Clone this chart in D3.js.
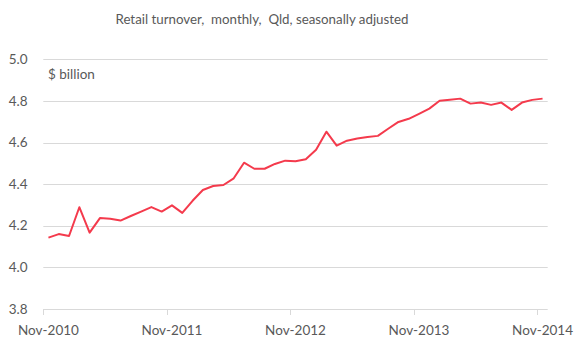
<!DOCTYPE html>
<html><head><meta charset="utf-8">
<script src="https://cdn.jsdelivr.net/npm/d3@7"></script>
<style>
html,body{margin:0;padding:0;background:#fff;}
svg text{font-family:Lato,"Open Sans",sans-serif;fill:#595959;}
</style></head>
<body><svg id="c" width="578" height="358"></svg>
<script>
const title = "Retail turnover,  monthly,  Qld, seasonally adjusted";
const unitLabel = "$ billion";
const startMonth = new Date(2010, 10, 1); // Nov-2010
const values = [4.143,4.160,4.151,4.289,4.167,4.237,4.234,4.225,4.247,4.268,
  4.290,4.268,4.298,4.262,4.320,4.372,4.391,4.396,4.428,4.503,
  4.474,4.474,4.497,4.513,4.510,4.520,4.565,4.652,4.585,4.609,
  4.619,4.627,4.632,4.666,4.699,4.714,4.738,4.763,4.801,4.806,
  4.811,4.787,4.792,4.781,4.792,4.757,4.792,4.805,4.811];
const yTicks = [3.8,4.0,4.2,4.4,4.6,4.8,5.0];
const xTickLabels = ["Nov-2010","Nov-2011","Nov-2012","Nov-2013","Nov-2014"];

(function(){
const months = d3.timeMonths(startMonth, d3.timeMonth.offset(startMonth, values.length));
const fmt = d3.timeFormat("%b-%Y");
const cats = months.map(fmt);

const svg = d3.select("#c");
const mLeft = 43.3, mRight = 547.7, mTop = 59.3, mBottom = 309;
const x = d3.scaleBand().domain(cats).range([mLeft, mRight]).padding(0);
const y = d3.scaleLinear().domain([3.8, 5.0]).range([mBottom, mTop]);
const cx = c => x(c) + x.bandwidth()/2;

svg.append("g").selectAll("line").data(yTicks.slice(1)).join("line")
  .attr("x1", mLeft).attr("x2", mRight)
  .attr("y1", d => Math.round(y(d))+0.5).attr("y2", d => Math.round(y(d))+0.5)
  .attr("stroke", "#d9d9d9").attr("stroke-width", 1);

svg.append("g").selectAll("text").data(yTicks).join("text")
  .attr("x", 27.5).attr("y", d => y(d)).attr("dy", "0.35em")
  .attr("text-anchor", "end").style("font-size", "13.5px")
  .text(d => d3.format(".1f")(d));

svg.append("line").attr("x1", mLeft).attr("x2", mRight)
  .attr("y1", Math.round(mBottom)+0.5).attr("y2", Math.round(mBottom)+0.5)
  .attr("stroke", "#d9d9d9");
svg.append("g").selectAll("line").data(xTickLabels).join("line")
  .attr("x1", d => Math.round(x(d))+0.5).attr("x2", d => Math.round(x(d))+0.5)
  .attr("y1", mBottom).attr("y2", mBottom+6)
  .attr("stroke", "#d9d9d9");
svg.append("g").selectAll("text").data(xTickLabels).join("text")
  .attr("x", d => cx(d)).attr("y", 335)
  .attr("text-anchor", "middle").style("font-size", "13.5px")
  .text(d => d);

const line = d3.line().x((d,i) => cx(cats[i])).y(d => y(d));
svg.append("path").datum(values).attr("d", line)
  .attr("fill", "none").attr("stroke", "#f43a4c").attr("stroke-width", 2)
  .attr("stroke-linejoin", "round");

svg.append("text").attr("x", 262).attr("y", 24).attr("text-anchor", "middle")
  .style("font-size", "13.3px").style("white-space", "pre").text(title);
svg.append("text").attr("x", 48).attr("y", 79).style("font-size", "13.5px").text(unitLabel);
})();
</script></body></html>
